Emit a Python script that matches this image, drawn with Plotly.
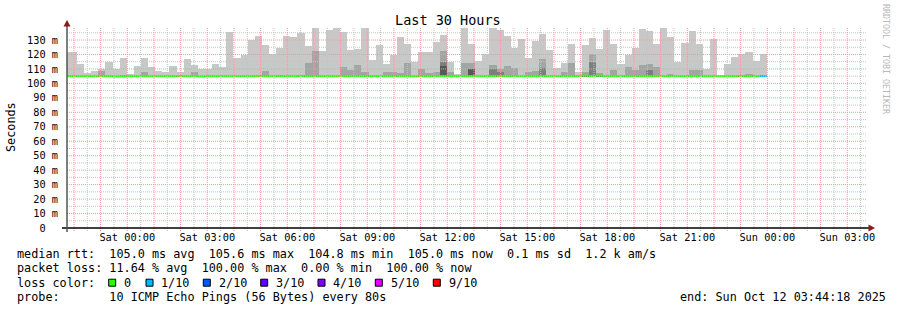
import pandas as pd
import plotly.graph_objects as go

# ---------------- data ----------------
VIEW_START = "2025-10-10 21:44:18"
VIEW_END = "2025-10-12 03:44:18"
FIRST_BIN = "2025-10-10 21:34:40"
BIN_MINUTES = 16
MIN_RTT_FLOOR = 104.7  # ms, lowest ping (bottom of the smoke)

# highest ping per bin (ms)
max_rtt = [
    121.6, 121.6,
    113.4, 107.1, 108.7, 110.2, 114.8, 110.2, 117.6, 106.7, 112.0, 117.6,
    111.3, 108.6, 107.9, 112.0, 107.9, 116.9, 112.7, 110.0, 110.0, 113.4,
    111.3, 135.5, 117.6, 119.6, 130.0, 132.8, 126.6, 120.3, 124.5, 132.8,
    132.0, 134.8, 126.0, 138.3, 122.4, 137.0, 138.3, 135.5, 123.0, 123.8,
    138.3, 116.2, 126.6, 113.4, 119.6, 132.0, 127.0, 114.8, 121.7, 121.7,
    128.6, 133.5, 114.8, 106.5, 138.3, 127.0, 115.5, 120.3, 138.3, 137.0,
    132.8, 124.5, 130.7, 117.6, 129.3, 134.2, 123.0, 110.6, 114.0, 127.0,
    108.0, 126.6, 131.4, 123.8, 137.0, 127.0, 113.4, 119.6, 124.5, 137.6,
    136.2, 127.0, 138.3, 132.0, 114.8, 128.0, 136.2, 127.0, 110.0, 130.7,
    105.0, 113.4, 118.3, 120.3, 121.7, 115.5, 120.3,
]
# 2nd highest ping per bin (ms)
ping9 = [
    105.0, 105.0,
    105.0, 105.0, 105.0, 108.6, 105.0, 105.0, 106.0, 105.0, 105.0, 107.9,
    105.0, 105.0, 105.0, 105.0, 105.0, 105.0, 107.9, 105.0, 105.0, 105.0,
    105.0, 105.0, 105.0, 105.0, 105.0, 106.0, 108.6, 105.0, 106.0, 105.0,
    105.0, 106.0, 114.0, 122.4, 105.0, 105.0, 105.0, 111.3, 109.3, 112.7,
    107.9, 105.0, 105.0, 108.0, 108.0, 107.0, 114.0, 105.0, 110.0, 107.2,
    108.0, 122.4, 108.0, 105.0, 114.0, 114.0, 105.0, 105.0, 112.7, 110.0,
    112.0, 110.6, 105.0, 108.0, 108.6, 116.9, 105.0, 105.0, 108.0, 114.0,
    105.0, 108.0, 120.3, 107.0, 105.0, 109.0, 105.0, 111.3, 109.0, 112.7,
    113.4, 111.3, 105.0, 106.5, 105.0, 105.0, 109.3, 109.3, 105.0, 105.0,
    105.0, 105.0, 105.0, 106.0, 106.5, 105.0, 105.0,
]
# 3rd highest ping per bin (ms)
ping8 = [
    105.0, 105.0,
    105.0, 105.0, 105.0, 105.0, 105.0, 105.0, 105.0, 105.0, 105.0, 105.0,
    105.0, 105.0, 105.0, 105.0, 105.0, 105.0, 105.0, 105.0, 105.0, 105.0,
    105.0, 105.0, 105.0, 105.0, 105.0, 105.0, 105.0, 105.0, 105.0, 105.0,
    105.0, 105.0, 105.0, 105.0, 105.0, 105.0, 105.0, 105.0, 105.0, 105.0,
    105.0, 105.0, 105.0, 105.0, 105.0, 105.0, 105.0, 105.0, 105.0, 105.0,
    105.0, 114.8, 105.0, 105.0, 105.0, 110.0, 105.0, 105.0, 110.0, 108.0,
    105.0, 105.0, 105.0, 105.0, 105.0, 110.6, 105.0, 105.0, 105.0, 105.0,
    105.0, 105.0, 114.8, 105.0, 105.0, 105.0, 105.0, 105.0, 105.0, 105.0,
    109.5, 105.0, 105.0, 105.0, 105.0, 105.0, 105.0, 105.0, 105.0, 105.0,
    105.0, 105.0, 105.0, 105.0, 105.0, 105.0, 105.0,
]
# 4th highest ping per bin (ms)
ping7 = [
    105.0, 105.0,
    105.0, 105.0, 105.0, 105.0, 105.0, 105.0, 105.0, 105.0, 105.0, 105.0,
    105.0, 105.0, 105.0, 105.0, 105.0, 105.0, 105.0, 105.0, 105.0, 105.0,
    105.0, 105.0, 105.0, 105.0, 105.0, 105.0, 105.0, 105.0, 105.0, 105.0,
    105.0, 105.0, 105.0, 105.0, 105.0, 105.0, 105.0, 105.0, 105.0, 105.0,
    105.0, 105.0, 105.0, 105.0, 105.0, 105.0, 105.0, 105.0, 105.0, 105.0,
    105.0, 112.0, 105.0, 105.0, 105.0, 110.0, 105.0, 105.0, 105.0, 105.0,
    105.0, 105.0, 105.0, 105.0, 105.0, 105.0, 105.0, 105.0, 105.0, 105.0,
    105.0, 105.0, 105.0, 105.0, 105.0, 105.0, 105.0, 105.0, 105.0, 105.0,
    105.0, 105.0, 105.0, 105.0, 105.0, 105.0, 105.0, 105.0, 105.0, 105.0,
    105.0, 105.0, 105.0, 105.0, 105.0, 105.0, 105.0,
]
# median rtt per bin (ms)
median_rtt = [
    105.0, 105.0,
    105.0, 105.0, 105.0, 105.0, 105.0, 104.8, 104.8, 105.0, 105.0, 105.0,
    105.0, 105.0, 105.0, 105.0, 105.0, 105.0, 105.0, 104.8, 105.0, 105.0,
    105.0, 105.0, 105.0, 105.0, 105.0, 105.0, 105.0, 105.0, 105.0, 105.0,
    105.0, 105.0, 105.0, 105.0, 105.0, 105.0, 105.0, 105.0, 105.0, 105.0,
    105.0, 105.0, 105.0, 105.0, 105.0, 105.0, 105.0, 105.0, 105.0, 105.0,
    105.0, 105.0, 105.0, 105.0, 105.0, 105.0, 105.0, 105.0, 105.0, 105.0,
    105.0, 105.0, 105.0, 105.0, 105.0, 105.0, 105.0, 105.0, 105.0, 105.0,
    105.0, 105.4, 105.0, 105.4, 105.0, 105.0, 105.0, 105.0, 105.0, 105.0,
    105.0, 105.0, 105.0, 105.0, 105.0, 105.0, 105.0, 105.0, 105.0, 105.0,
    105.0, 105.0, 105.0, 105.0, 105.0, 105.0, 105.0,
]
# lost pings (of 10) per bin
lost_pings = [0] * 98 + [1]

loss_labels = ["0", "1/10", "2/10", "3/10", "4/10", "5/10", "9/10"]
loss_thresholds = [0, 1, 2, 3, 4, 5, 9]
loss_colors = ["#26ff00", "#00b8ff", "#0059ff", "#5e00ff", "#7e00ff", "#dd00ff", "#ff0000"]

legend_rows = [
    "median rtt:  105.0 ms avg  105.6 ms max  104.8 ms min  105.0 ms now  0.1 ms sd  1.2 k am/s",
    "packet loss: 11.64 % avg  100.00 % max  0.00 % min  100.00 % now",
    "loss color:",
    "probe:       10 ICMP Echo Pings (56 Bytes) every 80s",
]
TITLE = "Last 30 Hours"
Y_TITLE = "Seconds"
WATERMARK = "RRDTOOL / TOBI OETIKER"

NB = "\u00a0"
y_tick_values = list(range(0, 131, 10))
y_tick_text = ["0" + NB + NB] + [f"{v}{NB}m" for v in y_tick_values[1:]]
x_tick_times = pd.date_range("2025-10-11 00:00", "2025-10-12 03:00", freq="3h")

# ---------------- layout geometry ----------------
W, H = 897, 310
PL, PR, PT, PB = 67, 867, 27, 228
MONO = "DejaVu Sans Mono"


def px(x):
    return (x - PL) / (PR - PL)


def py(y):
    return (PB - y) / (PB - PT)


bin_start = pd.date_range(FIRST_BIN, periods=len(max_rtt), freq=f"{BIN_MINUTES}min")
bin_end = bin_start + pd.Timedelta(minutes=BIN_MINUTES)
bin_ms = BIN_MINUTES * 60 * 1000

fig = go.Figure()

smoke_layers = [
    (max_rtt, "#c8c8c8"),
    (ping9, "#a4a4a4"),
    (ping8, "#7e7e7e"),
    (ping7, "#585858"),
]
for values, color in smoke_layers:
    fig.add_trace(go.Bar(
        x=bin_start, y=[v - MIN_RTT_FLOOR for v in values], base=MIN_RTT_FLOOR,
        width=bin_ms, offset=0, marker=dict(color=color, line=dict(width=0)),
        showlegend=False, hoverinfo="skip",
    ))


def loss_class(n):
    idx = 0
    for i, t in enumerate(loss_thresholds):
        if n >= t:
            idx = i
    return idx


for ci, color in enumerate(loss_colors):
    xs, ys = [], []
    for s, e, m, n in zip(bin_start, bin_end, median_rtt, lost_pings):
        if loss_class(n) == ci:
            xs += [s, e, None]
            ys += [m, m, None]
    if xs:
        fig.add_trace(go.Scatter(x=xs, y=ys, mode="lines",
                                 line=dict(color=color, width=2),
                                 showlegend=False, hoverinfo="skip"))

shapes = []
GRID_DASH = "1px,1px"
MAJOR = "#f29a9a"
MINOR = "#c4c4c4"
# horizontal grid
for v in range(5, 139, 5):
    shapes.append(dict(type="line", xref="paper", yref="y", x0=0, x1=1, y0=v, y1=v,
                       line=dict(color=MAJOR if v % 10 == 0 else MINOR, width=1, dash=GRID_DASH),
                       layer="above"))
# vertical grid (+ small tick marks below the axis)
for t in pd.date_range("2025-10-10 22:00", "2025-10-12 03:30", freq="30min"):
    major = t.minute == 0
    shapes.append(dict(type="line", xref="x", yref="paper", x0=t, x1=t, y0=py(231), y1=1,
                       line=dict(color=MAJOR if major else MINOR, width=1, dash=GRID_DASH),
                       layer="above"))
# axes
shapes.append(dict(type="line", xref="paper", yref="paper", x0=px(62), x1=px(869), y0=py(228), y1=py(228),
                   line=dict(color="#000000", width=1.5), layer="above"))
shapes.append(dict(type="line", xref="paper", yref="paper", x0=px(67), x1=px(67), y0=py(232), y1=py(24),
                   line=dict(color="#555555", width=1.5), layer="above"))
# arrows
shapes.append(dict(type="path", xref="paper", yref="paper",
                   path=f"M {px(63.5)},{py(26.5)} L {px(67)},{py(20)} L {px(70.5)},{py(26.5)} Z",
                   fillcolor="#8b1a1a", line=dict(width=0), layer="above"))
shapes.append(dict(type="path", xref="paper", yref="paper",
                   path=f"M {px(868.5)},{py(224.5)} L {px(875)},{py(228)} L {px(868.5)},{py(231.5)} Z",
                   fillcolor="#8b1a1a", line=dict(width=0), layer="above"))


def txt(text, x, y, size=11.8, anchor="left", angle=0, color="#000"):
    return dict(text=text.replace(" ", NB), x=px(x), y=py(y), xref="paper", yref="paper",
                showarrow=False, xanchor=anchor, yanchor="middle", borderpad=0, textangle=angle,
                font=dict(family=MONO, size=size, color=color))


annotations = [
    txt(TITLE, 447.5, 19.5, size=13.5, anchor="center"),
    txt(Y_TITLE, 11, 127, size=11.8, anchor="center", angle=-90),
    txt(WATERMARK, 886, 59, size=8.3, anchor="center", angle=90, color="#b8b8b8"),
]
row_y = [254, 268.3, 282.7, 296.7]
for text, yy in zip(legend_rows, row_y):
    annotations.append(txt(text, 16, yy))
annotations.append(txt(f"end: {pd.Timestamp(VIEW_END):%a %b %d %H:%M:%S %Y}", 678.5, row_y[3]))

box_left = [108.7, 146, 203.3, 260.7, 318, 375.3, 433.3]
for bx, label, color in zip(box_left, loss_labels, loss_colors):
    shapes.append(dict(type="rect", xref="paper", yref="paper", x0=px(bx), x1=px(bx + 7),
                       y0=py(row_y[2] + 3.5), y1=py(row_y[2] - 3.5),
                       fillcolor=color, line=dict(color="#000", width=1)))
    annotations.append(txt(label, bx + 14.3, row_y[2]))

fig.update_layout(
    width=W, height=H, margin=dict(l=PL, r=W - PR, t=PT, b=H - PB),
    paper_bgcolor="white", plot_bgcolor="white",
    barmode="overlay", bargap=0, hovermode=False, showlegend=False,
    shapes=shapes, annotations=annotations,
    xaxis=dict(type="date", range=[VIEW_START, VIEW_END], showgrid=False, zeroline=False, showline=False,
               tickvals=list(x_tick_times), ticktext=[t.strftime("%a %H:%M") for t in x_tick_times],
               ticks="", ticklabelstandoff=2,
               tickfont=dict(family=MONO, size=10.3, color="#000"), fixedrange=True),
    yaxis=dict(range=[0, 139], showgrid=False, zeroline=False, showline=False,
               tickvals=y_tick_values, ticktext=y_tick_text, ticks="", ticklabelstandoff=8,
               tickfont=dict(family=MONO, size=10.3, color="#000"), fixedrange=True),
)

fig.write_html("out.html", config={"displayModeBar": False})
